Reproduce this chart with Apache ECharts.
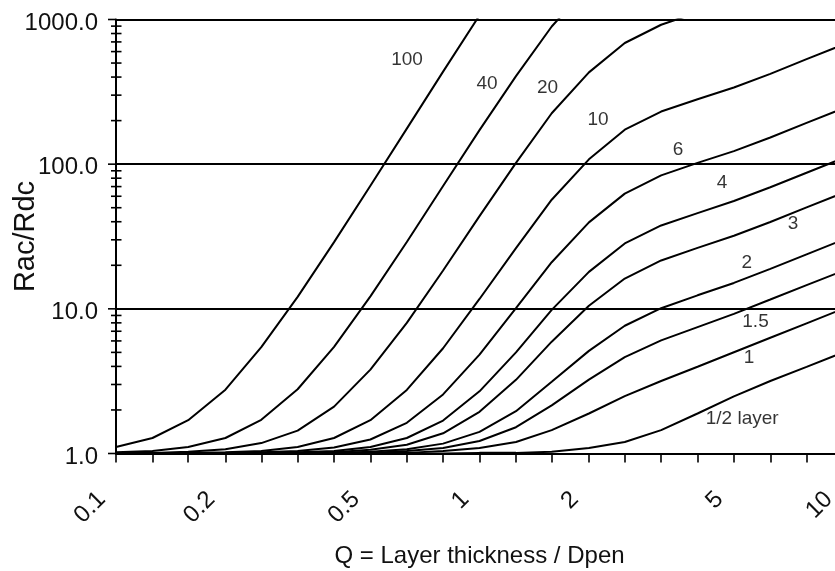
<!DOCTYPE html>
<html><head><meta charset="utf-8">
<script src="https://cdn.jsdelivr.net/npm/echarts@6/dist/echarts.min.js"></script>
<style>html,body{margin:0;padding:0;background:#fff}#c{width:835px;height:571px}</style>
</head><body><div id="c"></div>
<script>
// Q = layer thickness / penetration depth, one point per tick
const qValues = [0.1, 0.126, 0.158, 0.2, 0.251, 0.316, 0.398, 0.501, 0.631, 0.794, 1, 1.26, 1.58, 2, 2.51, 3.16, 3.98, 5.01, 6.31, 7.94, 10];
const xTickLabels = [0.1, 0.2, 0.5, 1, 2, 5, 10];
const yMajorTicks = [1, 10, 100, 1000];
const yMinorTicks = [2,3,4,5,6,7,8,9,20,30,40,50,60,70,80,90,200,300,400,500,600,700,800,900];

// Rac/Rdc per number of layers
const layers100 = [1.11, 1.28, 1.70, 2.76, 5.43, 12.1, 28.9, 70.9, 176, 436, 1069, null, null, null, null, null, null, null, null, null, null];
const layers40  = [1.02, 1.04, 1.11, 1.28, 1.71, 2.78, 5.46, 12.2, 29.0, 70.6, 172, 406, 895, 1723, null, null, null, null, null, null, null];
const layers20  = [1.00, 1.01, 1.03, 1.07, 1.18, 1.44, 2.11, 3.80, 7.99, 18.4, 43.7, 102, 225, 431, 688, 920, 1120, null, null, null, null];
const layers10  = [1.00, 1.00, 1.01, 1.02, 1.04, 1.11, 1.28, 1.70, 2.75, 5.34, 11.7, 26.3, 56.8, 108, 173, 231, 281, 339, 421, 532, 670];
const layers6   = [1.00, 1.00, 1.00, 1.01, 1.02, 1.04, 1.10, 1.25, 1.63, 2.56, 4.82, 10.1, 21.0, 39.6, 62.6, 83.6, 102, 123, 153, 193, 243];
const layers4   = [1.00, 1.00, 1.00, 1.00, 1.01, 1.02, 1.04, 1.11, 1.28, 1.69, 2.69, 5.00, 9.84, 18.0, 28.3, 37.7, 45.9, 55.6, 69.2, 87.3, 110];
const layers3   = [1.00, 1.00, 1.00, 1.00, 1.00, 1.01, 1.02, 1.06, 1.15, 1.38, 1.94, 3.23, 5.93, 10.5, 16.2, 21.6, 26.4, 32.0, 39.8, 50.3, 63.3];
const layers2   = [1.00, 1.00, 1.00, 1.00, 1.00, 1.00, 1.01, 1.03, 1.07, 1.17, 1.41, 1.96, 3.13, 5.12, 7.64, 10.1, 12.4, 15.1, 18.9, 23.8, 30.0];
const layers1_5 = [1.00, 1.00, 1.00, 1.00, 1.00, 1.00, 1.01, 1.01, 1.04, 1.09, 1.22, 1.52, 2.15, 3.24, 4.64, 6.05, 7.48, 9.23, 11.6, 14.6, 18.3];
const layers1   = [1.00, 1.00, 1.00, 1.00, 1.00, 1.00, 1.00, 1.01, 1.01, 1.04, 1.09, 1.20, 1.45, 1.89, 2.49, 3.17, 3.98, 5.01, 6.31, 7.94, 10.0];
const layersHalf= [1.00, 1.00, 1.00, 1.00, 1.00, 1.00, 1.00, 1.00, 1.00, 1.00, 1.01, 1.01, 1.03, 1.09, 1.20, 1.45, 1.89, 2.48, 3.17, 3.97, 5.00];

const curves = [layers100, layers40, layers20, layers10, layers6, layers4, layers3, layers2, layers1_5, layers1, layersHalf];

// curve annotations
const curveLabels = ['100', '40', '20', '10', '6', '4', '3', '2', '1.5', '1', '1/2 layer'];
const labelQ      = [0.632, 1.049, 1.538, 2.118, 3.516, 4.65, 7.29, 5.44, 5.745, 5.51, 5.28];
const labelRatio  = [524, 358, 338, 202, 125, 74.6, 38.9, 20.9, 8.17, 4.61, 1.73];

const yTitle = 'Rac/Rdc';
const xTitle = 'Q = Layer thickness / Dpen';

const FONT = "'Liberation Sans', Arial, sans-serif";
const TXT = '#111';

const series = curves.map(vals => ({
  type: 'line',
  data: qValues.map((q, i) => [q, vals[i]]),
  symbol: 'none',
  connectNulls: false,
  clip: true,
  silent: true,
  lineStyle: { color: '#000', width: 2 },
  z: 3
}));

function tickSeries(values, out, inn) {
  return {
    type: 'custom',
    coordinateSystem: 'cartesian2d',
    data: values.map(v => [qValues[0], v]),
    clip: false,
    silent: true,
    z: 6,
    renderItem: (params, api) => {
      const p = api.coord([api.value(0), api.value(1)]);
      return { type: 'line', shape: { x1: p[0] - out, y1: p[1], x2: p[0] + inn, y2: p[1] },
               style: { stroke: '#000', lineWidth: 1.6 } };
    }
  };
}
series.push(tickSeries(yMinorTicks, 5, 5.5));
series.push(tickSeries(yMajorTicks, 8, 0));

series.push({
  type: 'scatter',
  data: curveLabels.map((t, i) => ({ name: t, value: [labelQ[i], labelRatio[i]] })),
  symbolSize: 1,
  itemStyle: { color: 'rgba(0,0,0,0)' },
  silent: true,
  z: 8,
  label: { show: true, position: 'inside', formatter: '{b}', fontSize: 19, color: '#000', fontFamily: FONT }
});

const chart = echarts.init(document.getElementById('c'), null, { renderer: 'canvas' });
chart.setOption({
  animation: false,
  backgroundColor: '#fff',
  grid: { left: 116, top: 19.5, width: 727, height: 434, containLabel: false, outerBoundsMode: 'none' },
  graphic: [{
    type: 'text', x: 26, y: 236.5, rotation: Math.PI / 2, silent: true,
    style: { text: yTitle, fontSize: 29, fontFamily: FONT, fill: TXT, align: 'center', verticalAlign: 'middle' }
  }],
  xAxis: {
    type: 'log', logBase: 10, min: 0.1, max: 10,
    axisLine: { show: true, lineStyle: { color: '#000', width: 2 } },
    axisTick: { show: true, customValues: qValues, length: 9, inside: false, lineStyle: { color: '#000', width: 1.6 } },
    minorTick: { show: false },
    splitLine: { show: false },
    axisLabel: {
      customValues: xTickLabels, rotate: 45, margin: 28, padding: [0, 20, 0, 0],
      fontSize: 24, color: TXT, fontFamily: FONT,
      formatter: v => String(+Number(v).toPrecision(3))
    },
    name: xTitle, nameLocation: 'middle', nameGap: 91,
    nameTextStyle: { fontSize: 24, color: TXT, fontFamily: FONT }
  },
  yAxis: {
    type: 'log', logBase: 10, min: 1, max: 1000,
    axisLine: { show: true, lineStyle: { color: '#000', width: 2 } },
    axisTick: { show: false },
    minorTick: { show: false },
    splitLine: { show: true, lineStyle: { color: '#000', width: 2 } },
    axisLabel: {
      fontSize: 24, margin: 18, color: TXT, fontFamily: FONT,
      formatter: v => '{v|' + Number(v).toFixed(1) + '}',
      rich: { v: { fontSize: 24, color: TXT, fontFamily: FONT, padding: [7, 0, 0, 0] } }
    }
  },
  series: series
});
</script></body></html>
